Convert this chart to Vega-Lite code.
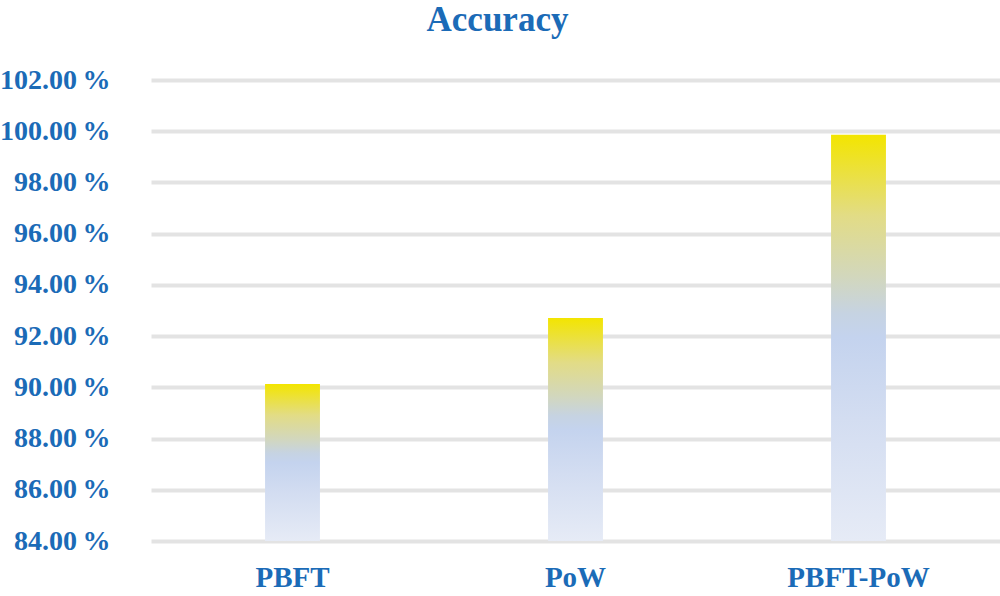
{
  "$schema": "https://vega.github.io/schema/vega-lite/v6.json",
  "autosize": "none",
  "width": 849,
  "height": 461,
  "padding": {"left": 151, "top": 80, "right": 0, "bottom": 55},
  "background": "white",
  "title": {
    "text": "Accuracy",
    "font": "Liberation Serif",
    "fontSize": 35,
    "fontWeight": "bold",
    "color": "#1b6bb7",
    "anchor": "middle",
    "frame": "group",
    "dx": -78,
    "offset": 0,
    "baseline": "alphabetic"
  },
  "data": {
    "values": [
      {"method": "PBFT", "accuracy": 0.9013},
      {"method": "PoW", "accuracy": 0.9271},
      {"method": "PBFT-PoW", "accuracy": 0.9986}
    ]
  },
  "mark": {
    "type": "bar",
    "color": {
      "gradient": "linear",
      "x1": 0, "y1": 1, "x2": 0, "y2": 0,
      "stops": [
        {"offset": 0, "color": "#e6ebf6"},
        {"offset": 0.3, "color": "#d3ddf1"},
        {"offset": 0.5, "color": "#c4d3ee"},
        {"offset": 0.56, "color": "#c6d3e2"},
        {"offset": 0.65, "color": "#d2d7bd"},
        {"offset": 0.8, "color": "#e2dc86"},
        {"offset": 1, "color": "#f3e500"}
      ]
    }
  },
  "encoding": {
    "x": {
      "field": "method",
      "type": "nominal",
      "sort": null,
      "scale": {"paddingInner": 0.806, "paddingOuter": 0.403},
      "axis": {
        "title": null,
        "domain": false,
        "ticks": false,
        "labelAngle": 0,
        "labelFont": "Liberation Serif",
        "labelFontSize": 29,
        "labelFontWeight": "bold",
        "labelColor": "#1b6bb7",
        "labelPadding": 22
      }
    },
    "y": {
      "field": "accuracy",
      "type": "quantitative",
      "scale": {"domain": [0.84, 1.02], "nice": false, "zero": false},
      "axis": {
        "title": null,
        "values": [0.84, 0.86, 0.88, 0.90, 0.92, 0.94, 0.96, 0.98, 1.00, 1.02],
        "labelExpr": "format(datum.value * 100, '.2f') + '\u2009%'",
        "domain": false,
        "ticks": false,
        "grid": true,
        "gridColor": "#e3e3e3",
        "gridWidth": 4,
        "gridOpacity": 1,
        "labelFont": "Liberation Serif",
        "labelFontSize": 28,
        "labelFontWeight": "bold",
        "labelColor": "#1b6bb7",
        "labelPadding": 41
      }
    },
    "y2": {"datum": 0.84}
  },
  "config": {"view": {"stroke": null}}
}
